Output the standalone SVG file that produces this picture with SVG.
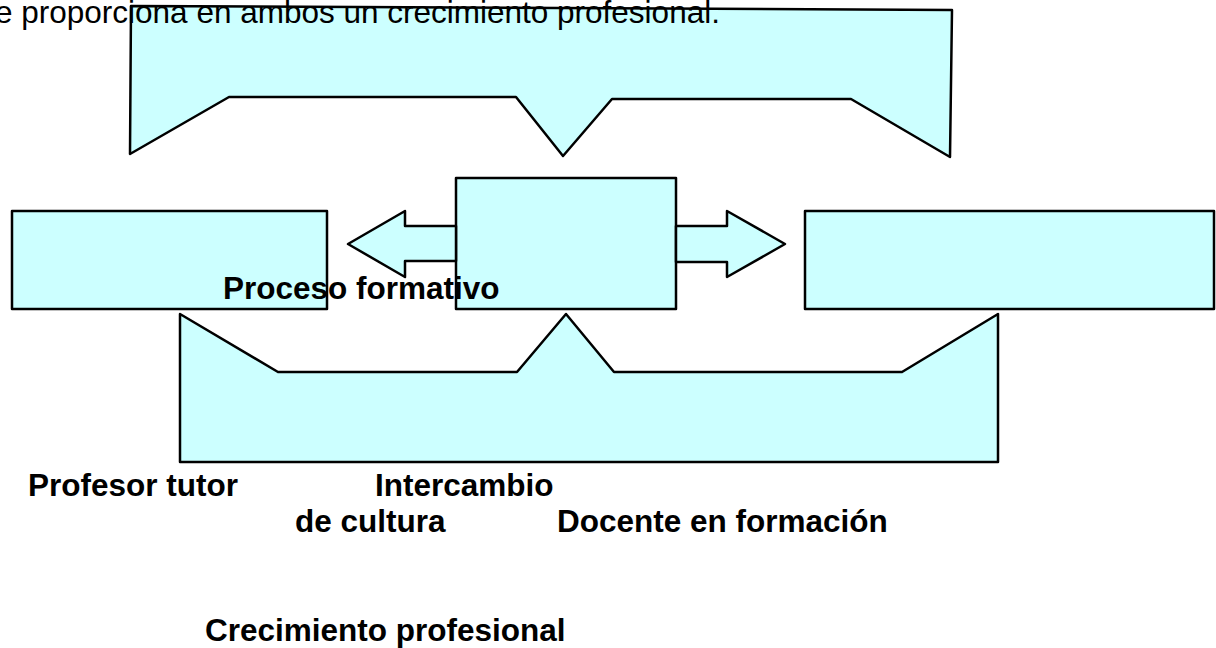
<svg xmlns="http://www.w3.org/2000/svg" width="1216" height="648" viewBox="0 0 1216 648">
<style>
.shape{fill:#CCFFFF;stroke:#000;stroke-width:2.5;stroke-linejoin:round}
.lbl{font-family:"Liberation Sans",Arial,sans-serif;font-weight:bold;font-size:31.5px;fill:#000}
.ttl{font-family:"Liberation Sans",Arial,sans-serif;font-size:31.5px;fill:#000}
</style>
<rect width="1216" height="648" fill="#fff"/>
<g id="callout-top">
<polygon class="shape" points="131,6 952,10 950,157 851,99 612,99 563,156 516,97 229,97 130,154"/>
</g>
<g id="box-left">
<rect class="shape" x="12" y="211" width="315" height="98"/>
</g>
<g id="box-center">
<rect class="shape" x="456" y="178" width="220" height="131"/>
</g>
<g id="box-right">
<rect class="shape" x="805" y="211" width="409" height="98"/>
</g>
<g id="connectors">
<polygon class="shape" points="456,226 405,226 405,211 348,244 405,277 405,261 456,261"/>
<polygon class="shape" points="676,226 727,226 727,211 785,244 727,277 727,262 676,262"/>
</g>
<g id="callout-bottom">
<polygon class="shape" points="180,314 278,372 517,372 566,314 614,372 902,372 998,314 998,462 180,462"/>
</g>
<g id="labels">
<text class="ttl" x="-5" y="23">e proporciona en ambos un crecimiento profesional.</text>
<text class="lbl" x="223" y="299">Proceso formativo</text>
<text class="lbl" x="28" y="496">Profesor tutor</text>
<text class="lbl" x="375" y="496">Intercambio</text>
<text class="lbl" x="295" y="532">de cultura</text>
<text class="lbl" x="557" y="532">Docente en formación</text>
<text class="lbl" x="205" y="641">Crecimiento profesional</text>
</g>
</svg>
